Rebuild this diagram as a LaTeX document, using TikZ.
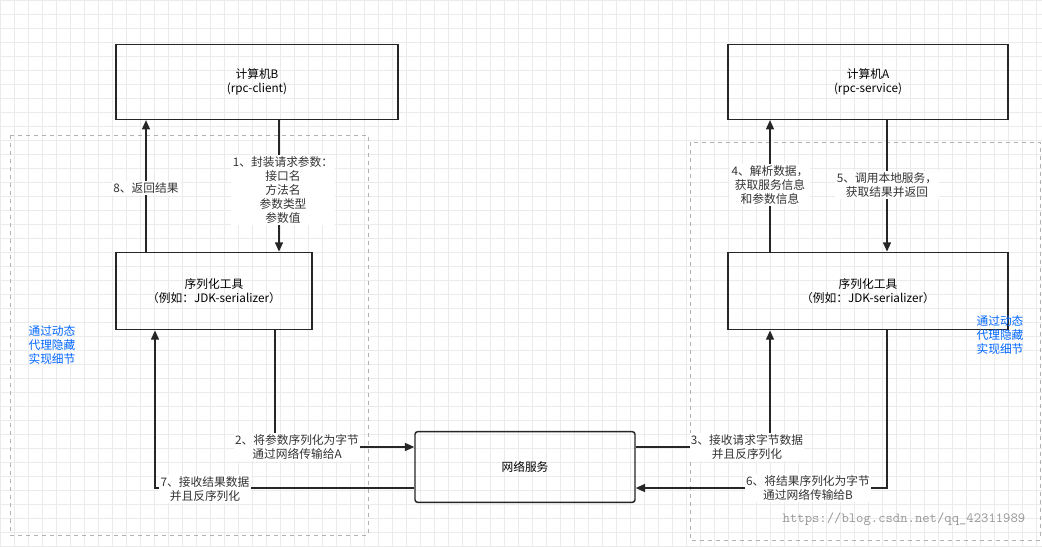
\documentclass[tikz,border=0pt]{standalone}
\usepackage{fontspec}
\setmainfont{Noto Sans CJK SC}
\usetikzlibrary{arrows.meta}
\begin{document}
\begin{tikzpicture}[x=0.75pt,y=-0.75pt,
  font=\fontsize{8.8pt}{10.5pt}\selectfont,
  box/.style={draw=black!85,line width=1.1pt,minimum width=#1},
  grp/.style={draw=black!30,dashed,line width=0.6pt},
  conn/.style={line width=1.1pt,draw=black!85,-{Triangle[length=7pt,width=6pt]}},
  lbl/.style={fill=white,align=center,inner sep=1pt,text=black!80},
  note/.style={align=left,text=blue!60!cyan,inner sep=0pt}]
\useasboundingbox (0,0) rectangle (1042,547);
\fill[white] (0,0) rectangle (1042,547);
\draw[black!8,step=10.5pt] (0,0) grid (1042,547);
\draw[grp] (10,135) rectangle (368,535);
\draw[grp] (690,142) rectangle (1040,540);
\node[box,minimum width=211.5pt,minimum height=56pt,align=center] (B) at (257,82) {计算机B\\(rpc-client)};
\node[box,minimum width=210pt,minimum height=56pt,align=center] (A) at (868,82) {计算机A\\(rpc-service)};
\node[box,minimum width=147pt,minimum height=58pt,align=center] (SL) at (214,291) {序列化工具\\（例如：JDK-serializer）};
\node[box,minimum width=210pt,minimum height=58pt,align=center] (SR) at (868,291) {序列化工具\\（例如：JDK-serializer）};
\node[box,rounded corners=2pt,minimum width=165pt,minimum height=53pt] (N) at (525,467) {网络服务};
% arrows
\draw[conn] (SL.north -| 146,0) -- (B.south -| 146,0);
\draw[conn] (B.south -| 279,0) -- (SL.north -| 279,0);
\draw[conn] (SR.north -| 770,0) -- (A.south -| 770,0);
\draw[conn] (A.south -| 887,0) -- (SR.north -| 887,0);
\draw[conn] (SL.south -| 275,0) |- (N.west |- 0,447);
\draw[conn] (N.west |- 0,488) -| (SL.south -| 155,0);
\draw[conn] (N.east |- 0,447) -| (SR.south -| 770,0);
\draw[conn] (SR.south -| 887,0) |- (N.east |- 0,488);
% labels
\node[lbl] (l8) at (146,188) {8、返回结果};
\node[lbl] (l1) at (283,190) {1、封装请求参数：\\接口名\\方法名\\参数类型\\参数值};
\node[lbl] (l2) at (297,447) {2、将参数序列化为字节\\通过网络传输给A};
\node[lbl] (l7) at (205,489) {7、接收结果数据\\并且反序列化};
\node[lbl] (l4) at (770,185) {4、解析数据，\\获取服务信息\\和参数信息};
\node[lbl] (l5) at (887,185) {5、调用本地服务，\\获取结果并返回};
\node[lbl] (l3) at (747,447) {3、接收请求字节数据\\并且反序列化};
\node[lbl] (l6) at (808,488) {6、将结果序列化为字节\\通过网络传输给B};
\node[note] (nl) at (52,345) {通过动态\\代理隐藏\\实现细节};
\node[note] (nr) at (1000,335) {通过动态\\代理隐藏\\实现细节};
\node[text=black!40,font=\ttfamily\fontsize{10.5pt}{12pt}\selectfont] (wm) at (904,519) {https://blog.csdn.net/qq\_42311989};
\end{tikzpicture}
\end{document}
